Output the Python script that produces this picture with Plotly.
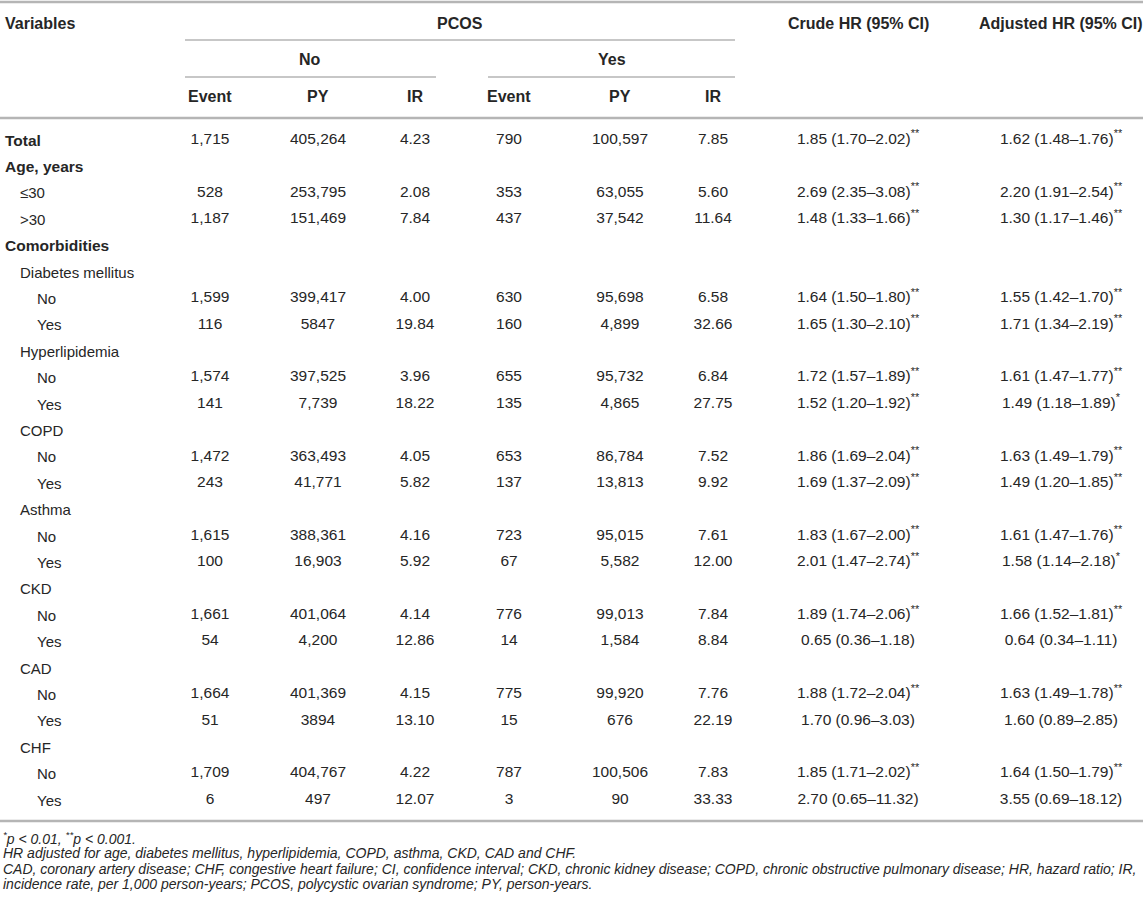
import plotly.graph_objects as go

# rows of the table (label, indent level)
labels = ["Total", "Age, years", "≤30", ">30", "Comorbidities",
          "Diabetes mellitus", "No", "Yes", "Hyperlipidemia", "No", "Yes",
          "COPD", "No", "Yes", "Asthma", "No", "Yes", "CKD", "No", "Yes",
          "CAD", "No", "Yes", "CHF", "No", "Yes"]
levels = [0, 0, 1, 1, 0, 1, 2, 2, 1, 2, 2, 1, 2, 2, 1, 2, 2, 1, 2, 2, 1, 2, 2, 1, 2, 2]

event_no = ["1,715", "", "528", "1,187", "", "", "1,599", "116", "", "1,574", "141", "",
            "1,472", "243", "", "1,615", "100", "", "1,661", "54", "", "1,664", "51", "",
            "1,709", "6"]
py_no = ["405,264", "", "253,795", "151,469", "", "", "399,417", "5847", "", "397,525",
         "7,739", "", "363,493", "41,771", "", "388,361", "16,903", "", "401,064", "4,200",
         "", "401,369", "3894", "", "404,767", "497"]
ir_no = ["4.23", "", "2.08", "7.84", "", "", "4.00", "19.84", "", "3.96", "18.22", "",
         "4.05", "5.82", "", "4.16", "5.92", "", "4.14", "12.86", "", "4.15", "13.10", "",
         "4.22", "12.07"]
event_yes = ["790", "", "353", "437", "", "", "630", "160", "", "655", "135", "", "653",
             "137", "", "723", "67", "", "776", "14", "", "775", "15", "", "787", "3"]
py_yes = ["100,597", "", "63,055", "37,542", "", "", "95,698", "4,899", "", "95,732",
          "4,865", "", "86,784", "13,813", "", "95,015", "5,582", "", "99,013", "1,584",
          "", "99,920", "676", "", "100,506", "90"]
ir_yes = ["7.85", "", "5.60", "11.64", "", "", "6.58", "32.66", "", "6.84", "27.75", "",
          "7.52", "9.92", "", "7.61", "12.00", "", "7.84", "8.84", "", "7.76", "22.19", "",
          "7.83", "33.33"]
crude_hr = ["1.85 (1.70–2.02)**", "", "2.69 (2.35–3.08)**", "1.48 (1.33–1.66)**", "", "",
            "1.64 (1.50–1.80)**", "1.65 (1.30–2.10)**", "", "1.72 (1.57–1.89)**",
            "1.52 (1.20–1.92)**", "", "1.86 (1.69–2.04)**", "1.69 (1.37–2.09)**", "",
            "1.83 (1.67–2.00)**", "2.01 (1.47–2.74)**", "", "1.89 (1.74–2.06)**",
            "0.65 (0.36–1.18)", "", "1.88 (1.72–2.04)**", "1.70 (0.96–3.03)", "",
            "1.85 (1.71–2.02)**", "2.70 (0.65–11.32)"]
adjusted_hr = ["1.62 (1.48–1.76)**", "", "2.20 (1.91–2.54)**", "1.30 (1.17–1.46)**", "", "",
               "1.55 (1.42–1.70)**", "1.71 (1.34–2.19)**", "", "1.61 (1.47–1.77)**",
               "1.49 (1.18–1.89)*", "", "1.63 (1.49–1.79)**", "1.49 (1.20–1.85)**", "",
               "1.61 (1.47–1.76)**", "1.58 (1.14–2.18)*", "", "1.66 (1.52–1.81)**",
               "0.64 (0.34–1.11)", "", "1.63 (1.49–1.78)**", "1.60 (0.89–2.85)", "",
               "1.64 (1.50–1.79)**", "3.55 (0.69–18.12)"]

sub_headers = ["Event", "PY", "IR", "Event", "PY", "IR"]
footnotes = [
    "<sup>*</sup>p &lt; 0.01, <sup>**</sup>p &lt; 0.001.",
    "HR adjusted for age, diabetes mellitus, hyperlipidemia, COPD, asthma, CKD, CAD and CHF.",
    "CAD, coronary artery disease; CHF, congestive heart failure; CI, confidence interval; "
    "CKD, chronic kidney disease; COPD, chronic obstructive pulmonary disease; HR, hazard ratio; IR,",
    "incidence rate, per 1,000 person-years; PCOS, polycystic ovarian syndrome; PY, person-years.",
]

W, H = 1143, 909
FONT = "Liberation Sans, Arial, Helvetica, sans-serif"
INK = "#262626"
RULE = "#b5b5b5"

col_x = [210, 318, 415, 509, 620, 713, 858, 1061]
indent_x = [3, 18, 35]
row_y = [140 + i * 26.4 for i in range(len(labels))]


def stars(s):
    # trailing asterisks are set as superscript
    core = s.rstrip("*")
    n = len(s) - len(core)
    return core + ("<sup>" + "*" * n + "</sup>" if n else "")


fig = go.Figure()

columns = [event_no, py_no, ir_no, event_yes, py_yes, ir_yes, crude_hr, adjusted_hr]
for cx, vals in zip(col_x, columns):
    fig.add_trace(go.Scatter(
        x=[cx] * len(vals), y=row_y, text=[stars(v) for v in vals],
        mode="text", textposition="middle center",
        textfont=dict(family=FONT, size=15.5, color=INK),
        hoverinfo="skip", showlegend=False,
    ))

annotations = []


def note(x, y, text, anchor="left", size=15):
    annotations.append(dict(x=x, y=y, xref="x", yref="y", text=text, showarrow=False,
                            xanchor=anchor, yanchor="middle",
                            font=dict(family=FONT, size=size, color=INK)))


for lab, lev, y in zip(labels, levels, row_y):
    if lev == 0:
        note(indent_x[lev], y, f"<b>{lab}</b>", size=15.5)
    else:
        note(indent_x[lev], y, lab)

# header
note(3, 23, "<b>Variables</b>", size=16)
note(460, 23, "<b>PCOS</b>", "center", 16)
note(858, 23, "<b>Crude HR (95% CI)</b>", "center", 16)
note(1061, 23, "<b>Adjusted HR (95% CI)</b>", "center", 16)
note(310, 59, "<b>No</b>", "center", 16)
note(612, 59, "<b>Yes</b>", "center", 16)
for cx, h in zip(col_x[:6], sub_headers):
    note(cx, 96, f"<b>{h}</b>", "center", 16)

for i, t in enumerate(footnotes):
    note(1, 838 + i * 15.4, f"<i>{t}</i>", size=14)

shapes = []
for x0, x1, y, w in [(0, W, 2, 2.5), (185, 735, 40, 1.5), (185, 436, 77, 1.5),
                     (488, 735, 77, 1.5), (0, W, 118, 2.5), (0, W, 821, 2.5)]:
    shapes.append(dict(type="line", xref="x", yref="y", x0=x0, x1=x1, y0=y, y1=y,
                       line=dict(color=RULE, width=w)))

fig.update_layout(
    width=W, height=H,
    margin=dict(l=0, r=0, t=0, b=0),
    paper_bgcolor="white", plot_bgcolor="white",
    xaxis=dict(range=[0, W], visible=False, fixedrange=True),
    yaxis=dict(range=[H, 0], visible=False, fixedrange=True),
    annotations=annotations, shapes=shapes,
)

# drop the page's default body margin so the table sits at the window's corner
fig.write_html("out.html", config={"displayModeBar": False},
               post_script="document.body.style.margin='0';")
